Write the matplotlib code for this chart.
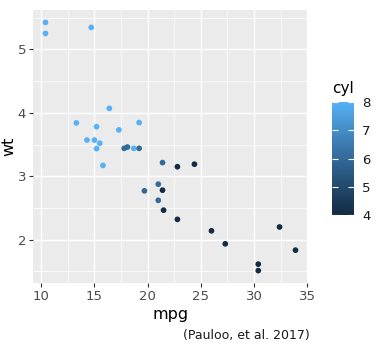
import numpy as np
import matplotlib
matplotlib.use("Agg")
import matplotlib.pyplot as plt
from matplotlib.colors import LinearSegmentedColormap, Normalize

# mtcars: mpg, wt, cyl
mpg = [21.0, 21.0, 22.8, 21.4, 18.7, 18.1, 14.3, 24.4, 22.8, 19.2, 17.8,
       16.4, 17.3, 15.2, 10.4, 10.4, 14.7, 32.4, 30.4, 33.9, 21.5, 15.5,
       15.2, 13.3, 19.2, 27.3, 26.0, 30.4, 15.8, 19.7, 15.0, 21.4]
wt = [2.620, 2.875, 2.320, 3.215, 3.440, 3.460, 3.570, 3.190, 3.150, 3.440,
      3.440, 4.070, 3.730, 3.780, 5.250, 5.424, 5.345, 2.200, 1.615, 1.835,
      2.465, 3.520, 3.435, 3.840, 3.845, 1.935, 2.140, 1.513, 3.170, 2.770,
      3.570, 2.780]
cyl = [6, 6, 4, 6, 8, 6, 8, 4, 4, 6, 6, 8, 8, 8, 8, 8, 8, 4, 4, 4, 4, 8,
       8, 8, 8, 4, 4, 4, 8, 6, 8, 4]

x_ticks = [10, 15, 20, 25, 30, 35]
y_ticks = [2, 3, 4, 5]
cbar_ticks = [4, 5, 6, 7, 8]
caption = "(Pauloo, et al. 2017)"

# ggplot default continuous gradient (approximate Lab interpolation)
cmap = LinearSegmentedColormap.from_list(
    "gg", ["#132B43", "#1D3F5E", "#28547B", "#336A98", "#3F80B7", "#4A98D6", "#56B1F7"])
norm = Normalize(4, 8)

fig = plt.figure(figsize=(3.8, 3.46), dpi=100)
ax = fig.add_axes([33 / 380, 63 / 346, 275 / 380, 273 / 346])
ax.set_facecolor("#EBEBEB")
for s in ax.spines.values():
    s.set_visible(False)

ax.scatter(mpg, wt, c=cyl, cmap=cmap, norm=norm, s=17, linewidths=0, zorder=3)

xr = max(mpg) - min(mpg)
yr = max(wt) - min(wt)
ax.set_xlim(min(mpg) - 0.05 * xr, max(mpg) + 0.05 * xr)
ax.set_ylim(min(wt) - 0.05 * yr, max(wt) + 0.05 * yr)

ax.set_xticks(x_ticks)
ax.set_yticks(y_ticks)
ax.set_xticks([12.5, 17.5, 22.5, 27.5, 32.5], minor=True)
ax.set_yticks([1.5, 2.5, 3.5, 4.5, 5.5], minor=True)
ax.grid(True, which="major", color="white", linewidth=1.0, zorder=0)
ax.grid(True, which="minor", color="white", linewidth=0.5, zorder=0)
ax.set_axisbelow(True)
ax.tick_params(which="major", length=3, width=0.8, color="#333333",
               labelsize=9.5, labelcolor="#4D4D4D", pad=2)
ax.tick_params(which="minor", length=0)

ax.set_xlabel("mpg", fontsize=11.5, labelpad=3)
ax.set_ylabel("wt", fontsize=11.5, labelpad=1)

# colourbar legend
cax = fig.add_axes([332 / 380, 131 / 346, 22 / 380, 113 / 346])
cb = fig.colorbar(plt.cm.ScalarMappable(norm=norm, cmap=cmap), cax=cax, ticks=cbar_ticks)
cb.outline.set_visible(False)
cax.tick_params(direction="in", length=4, width=0.8, color="white",
                left=True, right=True, labelsize=9.5, labelcolor="#1A1A1A", pad=6)
fig.text(332 / 380, 1 - 88 / 346, "cyl", fontsize=11, va="center", ha="left")

fig.text(310 / 380, 1 - 336 / 346, caption, fontsize=9, ha="right", va="center", color="#1A1A1A")

fig.savefig("out.png", dpi=100)
